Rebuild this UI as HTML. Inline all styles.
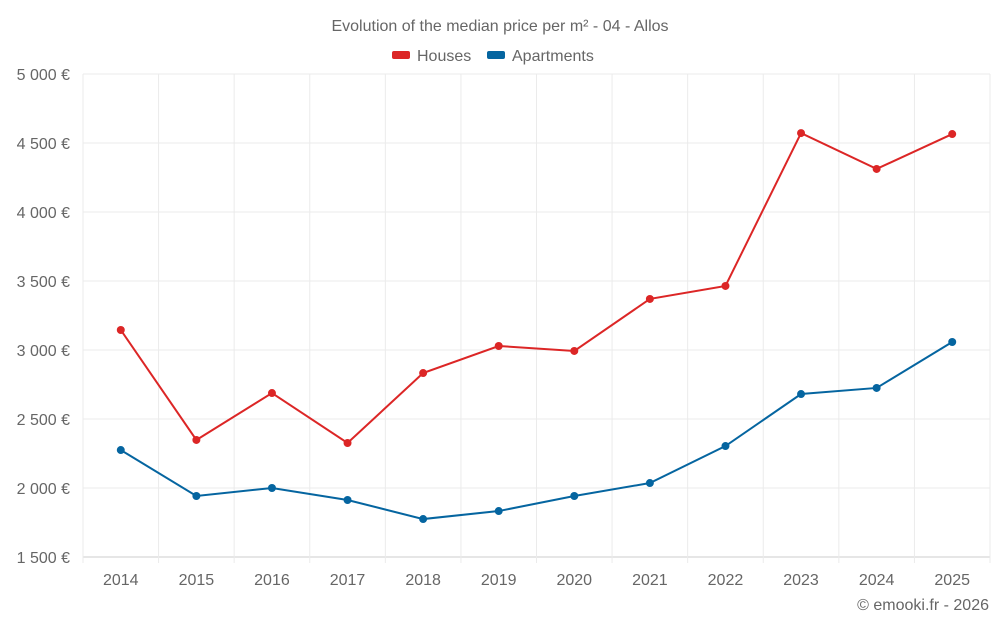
<!DOCTYPE html>
<html><head><meta charset="utf-8"><style>
body{margin:0;background:#fff;font-family:"Liberation Sans",sans-serif;}
svg text{font-family:"Liberation Sans",sans-serif;fill:#666;}
</style></head><body>
<svg id="c" width="1000" height="625"></svg>
<script>
const years=["2014","2015","2016","2017","2018","2019","2020","2021","2022","2023","2024","2025"];
const houses=[3145,2348,2688,2326,2833,3029,2993,3370,3464,4572,4312,4565];
const apartments=[2275,1942,2000,1913,1775,1833,1942,2036,2304,2681,2725,3058];
const yTicks=[1500,2000,2500,3000,3500,4000,4500,5000];
const L=83,R=990,T=74,B=557,yMin=1500,yMax=5000;
const svg=document.getElementById('c');const NS='http://www.w3.org/2000/svg';
const step=(R-L)/years.length;
const xs=i=>L+step*(i+0.5);
const ys=v=>B-(v-yMin)/(yMax-yMin)*(B-T);
function mk(t,a,p){const e=document.createElementNS(NS,t);for(const k in a)e.setAttribute(k,a[k]);(p||svg).appendChild(e);return e;}
yTicks.forEach(v=>{
 const g=mk('line',{x1:L,x2:R,y1:ys(v),y2:ys(v),stroke:v===yMin?'#ccc':'#ebebeb'});
 
 
 const t=mk('text',{x:70,y:ys(v)+6,'text-anchor':'end','font-size':16});
 t.textContent=String(v).replace(/\B(?=(\d{3})+$)/,' ')+' €';
 
 
});
for(let i=0;i<=years.length;i++){
 const x=L+step*i;
 const g=mk('line',{x1:x,x2:x,y1:T,y2:B+6,stroke:'#ebebeb'});
 
 
}
years.forEach((y,i)=>{
 const t=mk('text',{x:xs(i),y:585,'text-anchor':'middle','font-size':16});
 t.textContent=y;
 
 
});
function series(d,c,n){
 const p=mk('polyline',{points:d.map((v,i)=>xs(i)+','+ys(v)).join(' '),fill:'none',stroke:c,'stroke-width':2});
 
 
 d.forEach((v,i)=>{
  const q=mk('circle',{cx:xs(i),cy:ys(v),r:4,fill:c});
  
  
 });
}
series(houses,'#dc2626','houses');
series(apartments,'#0565a0','apartments');
let t=mk('text',{x:500,y:31,'text-anchor':'middle','font-size':16});
t.textContent='Evolution of the median price per m² - 04 - Allos';


let r=mk('rect',{x:392,y:51,width:18,height:8,fill:'#dc2626',rx:2});


t=mk('text',{x:417,y:61,'font-size':16});t.textContent='Houses';


r=mk('rect',{x:487,y:51,width:18,height:8,fill:'#0565a0',rx:2});


t=mk('text',{x:512,y:61,'font-size':16});t.textContent='Apartments';


t=mk('text',{x:989,y:610,'text-anchor':'end','font-size':16});t.textContent='© emooki.fr - 2026';


</script>
</body></html>
